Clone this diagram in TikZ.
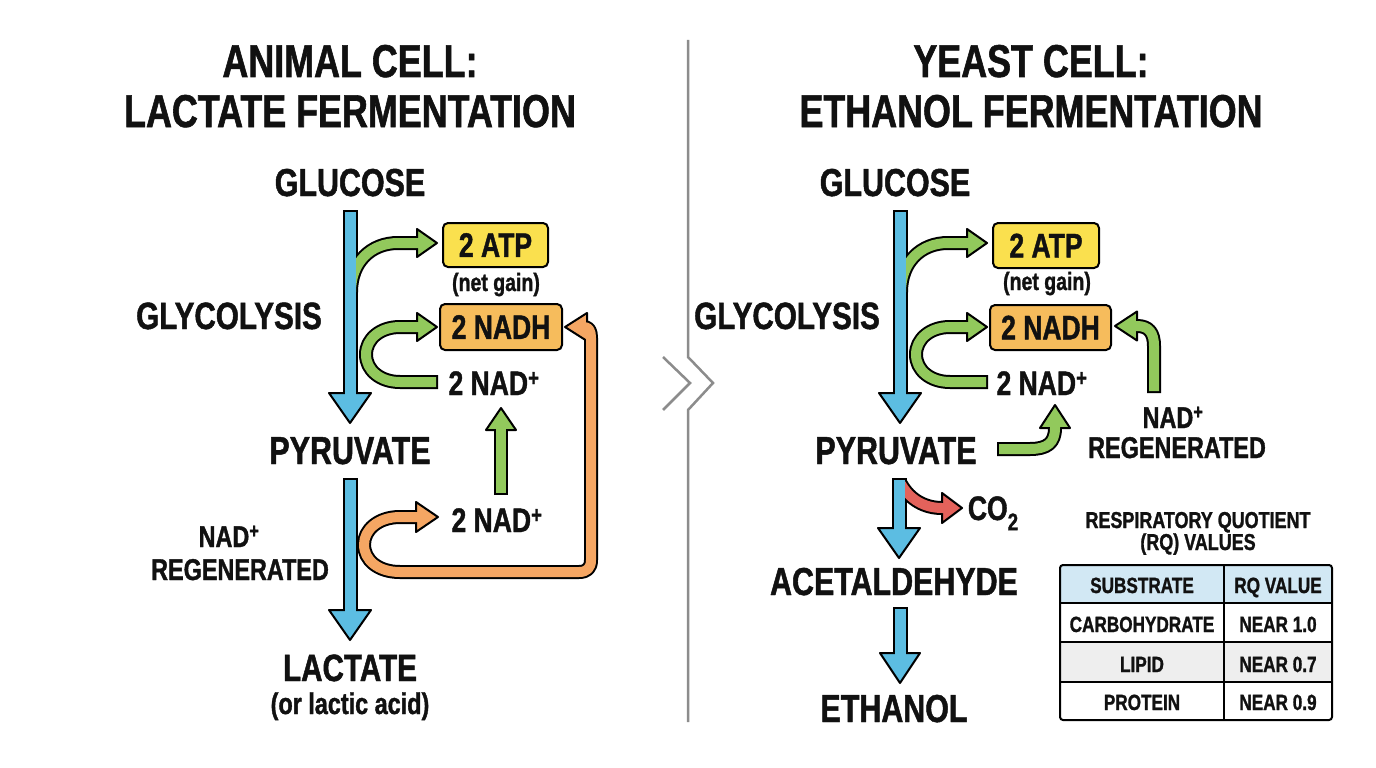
\documentclass[tikz,border=0pt]{standalone}
\usepackage{fontspec}
\setmainfont{Liberation Sans}[FakeStretch=0.78, BoldFeatures={FakeBold=1.2}]
\definecolor{ink}{HTML}{111111}
\definecolor{cblue}{HTML}{5CBDE2}
\definecolor{cgreen}{HTML}{92C95C}
\definecolor{corange}{HTML}{F5A663}
\definecolor{cred}{HTML}{E4625B}
\definecolor{cyellow}{HTML}{FAE04E}
\definecolor{cnadh}{HTML}{F6BC5C}
\definecolor{chdr}{HTML}{D2E8F4}
\definecolor{crow}{HTML}{EEEEEE}
\definecolor{cdiv}{HTML}{8C8C8C}
\newcommand\fsz[1]{\fontsize{#1}{#1}\selectfont}
\newcommand\headR[5]{\filldraw[ahead=#1] ({#2},{#3-#5}) -- ({#2+#4},{#3}) -- ({#2},{#3+#5}) -- cycle;}
\newcommand\headL[5]{\filldraw[ahead=#1] ({#2},{#3-#5}) -- ({#2-#4},{#3}) -- ({#2},{#3+#5}) -- cycle;}
\newcommand\headU[5]{\filldraw[ahead=#1] ({#2-#5},{#3}) -- ({#2},{#3-#4}) -- ({#2+#5},{#3}) -- cycle;}
\newcommand\headD[5]{\filldraw[ahead=#1] ({#2-#5},{#3}) -- ({#2},{#3+#4}) -- ({#2+#5},{#3}) -- cycle;}
\tikzset{
  txt/.style={inner sep=0pt, anchor=base, text=ink, font=\bfseries\fsz{#1}},
  box/.style={draw=black, line width=2pt, rounded corners=5pt, fill=#1, inner sep=0pt, text=ink, font=\bfseries\fsz{34}},
  ob/.style={draw=black, line width=15pt, line join=round},
  ib/.style={draw=#1, line width=11pt, line join=round},
  og/.style={draw=black, line width=14pt, line join=round},
  ig/.style={draw=#1, line width=10pt, line join=round},
  ahead/.style={fill=#1, draw=black, line width=2pt, line join=round},
  divider/.style={draw=cdiv, line width=2.5pt},
}
% shared glycolysis block (left coordinates)
\newcommand\glyco{%
  \draw[ob] (350,210) -- (350,396);
  \headD{cblue}{350}{393}{30}{21}
  \draw[ib=cblue, shorten <=2pt] (350,210) -- (350,396);
  % ATP arrow
  \draw[og] (351,292) .. controls (351,262) and (371,243) .. (398,243) -- (420,243);
  \headR{cgreen}{417}{243}{20}{14}
  \draw[ig=cgreen] (351,292) .. controls (351,262) and (371,243) .. (398,243) -- (420,243);
  % NAD+ -> NADH U-turn
  \draw[og] (438,382) -- (400,382) .. controls (380,382) and (366,370) .. (366,354.5) .. controls (366,339) and (380,327) .. (400,327) -- (420,327);
  \headR{cgreen}{417}{327}{20}{14}
  \draw[ig=cgreen, shorten <=2pt] (438,382) -- (400,382) .. controls (380,382) and (366,370) .. (366,354.5) .. controls (366,339) and (380,327) .. (400,327) -- (420,327);
  % blue shaft over the green start
  \draw[ib=cblue, shorten <=2pt] (350,210) -- (350,370);
}
\begin{document}
\begin{tikzpicture}[x=1pt,y=-1pt]
\fill[white] (0,0) rectangle (1376,768);
\useasboundingbox (0,0) rectangle (1376,768);

% divider
\draw[divider] (688,40) -- (688,357) -- (713,383) -- (688,410) -- (688,722);
\draw[divider] (663,357) -- (690,383) -- (663,410);

% ================= LEFT PANEL =================
\node[txt=46] (tA1) at (350,77) {ANIMAL CELL:};
\node[txt=46] (tA2) at (350,127) {LACTATE FERMENTATION};
\node[txt=39] (gluL) at (350,196) {GLUCOSE};
\node[txt=38] (glyL) at (229,329) {GLYCOLYSIS};
\node[txt=39] (pyrL) at (350,464) {PYRUVATE};
\node[txt=38] (lacL) at (350,681) {LACTATE};
\node[txt=30] (lac2L) at (350,714) {(or lactic acid)};
\node[box=cyellow, minimum width=105pt, minimum height=44pt] (atpL) at (495.5,245) {2 ATP};
\node[txt=25] (netL) at (496,291) {(net gain)};
\node[box=cnadh, minimum width=122pt, minimum height=46pt] (nadhL) at (501,327) {2 NADH};
\node[txt=34] (nadL1) at (494,395) {2 NAD\textsuperscript{+}};
\node[txt=34] (nadL2) at (497,532) {2 NAD\textsuperscript{+}};
\node[txt=30] (regL1) at (229,547) {NAD\textsuperscript{+}};
\node[txt=30] (regL2) at (240,580) {REGENERATED};

\glyco

% green up arrow 2 NAD+ -> 2 NAD+
\draw[og] (501,495) -- (501,427);
\headU{cgreen}{501}{430}{22}{15}
\draw[ig=cgreen, shorten <=2pt] (501,495) -- (501,427);

% blue arrow pyruvate -> lactate
\draw[ob] (350,478) -- (350,613);
\headD{cblue}{350}{610}{30}{21}
\draw[ib=cblue, shorten <=2pt] (350,478) -- (350,613);

% orange loop
\draw[og] (420,517) -- (400,517) .. controls (378,517) and (364,530) .. (364,544.5) .. controls (364,560) and (378,572) .. (400,572) -- (579,572) .. controls (587,572) and (591,568) .. (591,560) -- (591,338) .. controls (591,331) and (589,327) .. (584,327);
\headR{corange}{416}{517}{22}{15}
\headL{corange}{587}{327}{22}{14}
\draw[ig=corange] (420,517) -- (400,517) .. controls (378,517) and (364,530) .. (364,544.5) .. controls (364,560) and (378,572) .. (400,572) -- (579,572) .. controls (587,572) and (591,568) .. (591,560) -- (591,338) .. controls (591,331) and (589,327) .. (584,327);

% ================= RIGHT PANEL =================
\node[txt=46] (tB1) at (1031,77) {YEAST CELL:};
\node[txt=46] (tB2) at (1031,127) {ETHANOL FERMENTATION};
\node[txt=39] (gluR) at (895,196) {GLUCOSE};
\node[txt=38] (glyR) at (787,329) {GLYCOLYSIS};
\node[txt=39] (pyrR) at (896,464) {PYRUVATE};
\node[txt=39] (aceR) at (894,595) {ACETALDEHYDE};
\node[txt=39] (ethR) at (894,722) {ETHANOL};
\node[box=cyellow, minimum width=106pt, minimum height=45pt] (atpR) at (1046,245.5) {2 ATP};
\node[txt=25] (netR) at (1047,290) {(net gain)};
\node[box=cnadh, minimum width=121pt, minimum height=45pt] (nadhR) at (1050.5,327.5) {2 NADH};
\node[txt=34] (nadR1) at (1042,395) {2 NAD\textsuperscript{+}};
\node[txt=30] (regR1) at (1173,428) {NAD\textsuperscript{+}};
\node[txt=30] (regR2) at (1177,458) {REGENERATED};
\node[txt=34] (co2) at (993,520) {CO\raisebox{-0.3em}{\fsz{24}2}};

\begin{scope}[xshift=550pt]
\glyco
\end{scope}

% pyruvate -> 2 NAD+
\draw[og] (997,449) -- (1030,449) .. controls (1047,449) and (1055,443) .. (1055,428) -- (1055,425);
\headU{cgreen}{1055}{428}{23}{15}
\draw[ig=cgreen, shorten <=2pt] (997,449) -- (1030,449) .. controls (1047,449) and (1055,443) .. (1055,428) -- (1055,425);

% NAD+ regenerated -> 2 NADH
\draw[og] (1154,393) -- (1154,346) .. controls (1154,333) and (1149,326) .. (1137,326) -- (1134,326);
\headL{cgreen}{1137}{326}{22}{14.5}
\draw[ig=cgreen, shorten <=2pt] (1154,393) -- (1154,346) .. controls (1154,333) and (1149,326) .. (1137,326) -- (1134,326);

% blue arrow pyruvate -> acetaldehyde
\draw[ob] (899,478) -- (899,531);
\headD{cblue}{899}{528}{30}{21}
\draw[ib=cblue, shorten <=2pt] (899,478) -- (899,531);
% red CO2 arrow
\draw[og] (901,484) .. controls (910,500) and (925,508) .. (942,508) -- (945,508);
\headR{cred}{942}{508}{20}{15}
\draw[ig=cred] (901,484) .. controls (910,500) and (925,508) .. (942,508) -- (945,508);
\draw[ib=cblue, shorten <=2pt] (899,478) -- (899,515);

% blue arrow acetaldehyde -> ethanol
\draw[ob] (900,607) -- (900,656);
\headD{cblue}{900}{653}{30}{20}
\draw[ib=cblue, shorten <=2pt] (900,607) -- (900,656);

% ================= TABLE =================
\node[txt=23] (rq1) at (1198,528) {RESPIRATORY QUOTIENT};
\node[txt=23] (rq2) at (1198,550) {(RQ) VALUES};
\fill[chdr] (1060,565) rectangle (1332,603);
\fill[crow] (1060,642) rectangle (1332,682);
\draw[line width=1.5pt] (1060,603) -- (1332,603) (1060,642) -- (1332,642) (1060,682) -- (1332,682) (1224,565) -- (1224,720);
\draw[line width=2pt, rounded corners=3pt] (1060,565) rectangle (1332,720);
\node[txt=22] (c11) at (1142,593) {SUBSTRATE};
\node[txt=22] (c12) at (1278,593) {RQ VALUE};
\node[txt=22] (c21) at (1142,632) {CARBOHYDRATE};
\node[txt=22] (c22) at (1278,632) {NEAR 1.0};
\node[txt=22] (c31) at (1142,672) {LIPID};
\node[txt=22] (c32) at (1278,672) {NEAR 0.7};
\node[txt=22] (c41) at (1142,710) {PROTEIN};
\node[txt=22] (c42) at (1278,710) {NEAR 0.9};
\end{tikzpicture}
\end{document}
